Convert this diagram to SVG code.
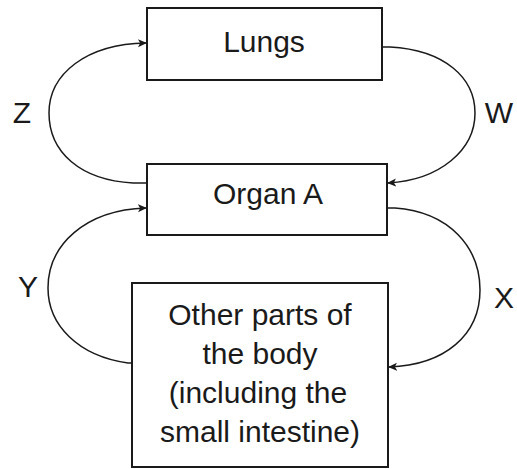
<svg xmlns="http://www.w3.org/2000/svg" width="517" height="469" viewBox="0 0 517 469">
<style>
.box{fill:#fff;stroke:#1a1a1a;stroke-width:2}
.t{font-family:"Liberation Sans",Arial,sans-serif;font-size:30px;fill:#1a1a1a;text-anchor:middle}
.c{fill:none;stroke:#1a1a1a;stroke-width:1.5;marker-end:url(#ah)}
</style>
<defs>
<marker id="ah" viewBox="0 0 10 10" refX="9" refY="5" markerWidth="9" markerHeight="9" markerUnits="userSpaceOnUse" orient="auto">
<path d="M0,0.5 L10,5 L0,9.5 L2.5,5 Z" fill="#1a1a1a"/>
</marker>
</defs>
<g id="connectors">
<path class="c" d="M147,183 L133,183 C80,180 49,152 49,113 C49,74 86,44 146,43"/>
<path class="c" d="M382,47 L390,47 C445,50 475,78 475,113 C475,150 440,180 388,183"/>
<path class="c" d="M132,363 L128,363 C78,356 48,325 48,288 C48,245 85,210 146,208"/>
<path class="c" d="M387,208 L395,208 C450,212 480,248 480,290 C480,335 445,365 389,367"/>
</g>
<g id="lungs">
<rect class="box" x="147" y="8" width="235" height="72"/>
<text class="t" x="264" y="52">Lungs</text>
</g>
<g id="organA">
<rect class="box" x="147" y="164" width="240" height="71"/>
<text class="t" x="268" y="204">Organ A</text>
</g>
<g id="other">
<rect class="box" x="132" y="283" width="256" height="184"/>
<text class="t" x="260" y="325">Other parts of</text>
<text class="t" x="260" y="364">the body</text>
<text class="t" x="258" y="403">(including the</text>
<text class="t" x="260" y="442">small intestine)</text>
</g>
<g id="labels">
<text class="t" x="22" y="123">Z</text>
<text class="t" x="499" y="123">W</text>
<text class="t" x="28" y="297">Y</text>
<text class="t" x="504" y="308">X</text>
</g>
</svg>
